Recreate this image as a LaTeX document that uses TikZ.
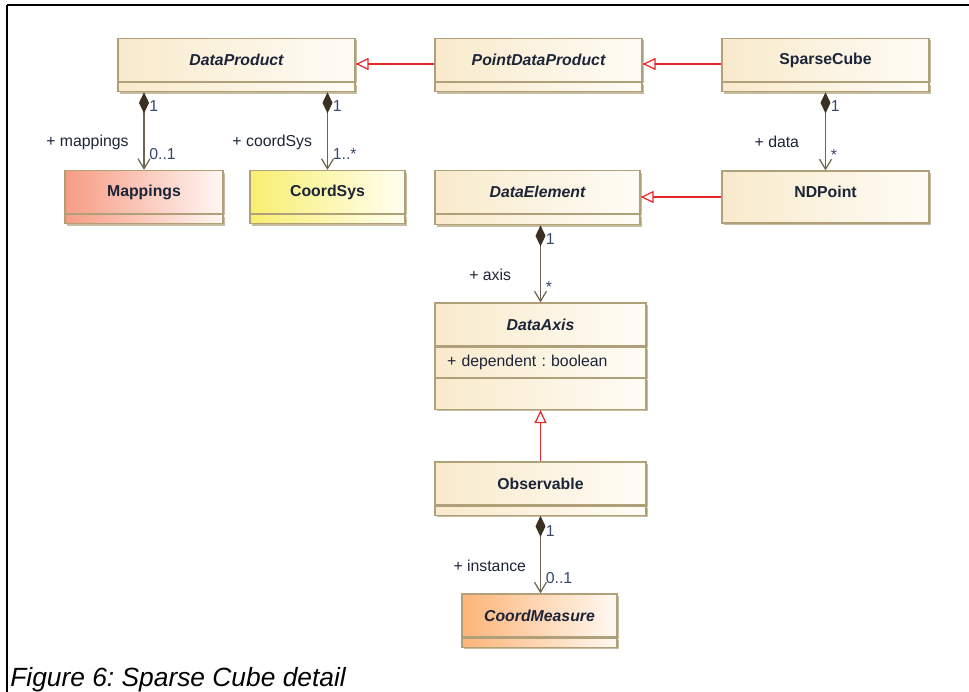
\documentclass[tikz,border=0pt]{standalone}
\usepackage{fontspec}
\setmainfont{Liberation Sans}
\frenchspacing
\usetikzlibrary{arrows.meta,positioning,shadows}

\definecolor{boxleft}{HTML}{F8EACB}
\definecolor{boxright}{HTML}{FFFCF6}
\definecolor{boxline}{HTML}{B0A07A}
\definecolor{boxshadow}{HTML}{C8BCA0}
\definecolor{mapleft}{HTML}{F79C84}
\definecolor{mapright}{HTML}{FFF6F3}
\definecolor{csysleft}{HTML}{F8EE70}
\definecolor{csysright}{HTML}{FFFFF2}
\definecolor{measleft}{HTML}{FDB478}
\definecolor{measright}{HTML}{FFF9F2}
\definecolor{assocline}{HTML}{6E6452}
\definecolor{diamondc}{HTML}{3A3122}
\definecolor{genred}{HTML}{E8262A}
\definecolor{labeltext}{HTML}{1C2438}
\definecolor{multtext}{HTML}{33486A}

\begin{document}
\begin{tikzpicture}[x=0.02cm,y=-0.02cm]
\tikzstyle{every node}=[font=\fontsize{9}{11}\selectfont, text=labeltext]
\tikzstyle{umlclass}=[draw=boxline, line width=.7pt, left color=boxleft,
  right color=boxright, inner sep=0pt, minimum height=.86cm,
  font=\fontsize{9}{11}\selectfont\bfseries,
  drop shadow={shadow xshift=.04cm, shadow yshift=-.04cm, fill=boxshadow, opacity=1}]
\tikzstyle{abstractclass}=[umlclass, font=\fontsize{9}{11}\selectfont\bfseries\itshape]
\tikzstyle{compartment}=[umlclass, minimum height=.18cm]
\tikzstyle{composition}=[draw=assocline, line width=.7pt,
  {Diamond[length=.42cm,width=.2cm,fill=diamondc,color=diamondc]}-{Straight Barb[length=.2cm,width=.24cm]}]
\tikzstyle{generalization}=[draw=genred, line width=.7pt,
  -{Triangle[open,length=.26cm,width=.24cm,fill=white]}]
\tikzstyle{mult}=[text=multtext, inner sep=1pt]

\useasboundingbox (0,0) rectangle (969,692);
%frame
\draw[line width=.9pt] (7,5) -- (969,5);
\draw[line width=.9pt] (7,5) -- (7,692);

%top row
\node[abstractclass, minimum width=4.74cm] (dataproduct) at (236.5,60) {DataProduct};
\node[compartment, minimum width=4.74cm, below=0pt of dataproduct] (dataproduct-ops) {};
\node[abstractclass, minimum width=4.14cm] (pointdataproduct) at (538.5,60) {PointDataProduct};
\node[compartment, minimum width=4.14cm, below=0pt of pointdataproduct] (pointdataproduct-ops) {};
\node[umlclass, minimum width=4.14cm] (sparsecube) at (825.5,60) {SparseCube};
\node[compartment, minimum width=4.14cm, below=0pt of sparsecube] (sparsecube-ops) {};

%second row
\node[umlclass, minimum width=3.16cm, left color=mapleft, right color=mapright] (mappings) at (144,192) {Mappings};
\node[compartment, minimum width=3.16cm, left color=mapleft, right color=mapright,
  below=0pt of mappings] (mappings-ops) {};
\node[umlclass, minimum width=3.1cm, left color=csysleft, right color=csysright] (coordsys) at (327.5,192) {CoordSys};
\node[compartment, minimum width=3.1cm, left color=csysleft, right color=csysright,
  below=0pt of coordsys] (coordsys-ops) {};
\node[abstractclass, minimum width=4.1cm] (dataelement) at (537.5,192) {DataElement};
\node[compartment, minimum width=4.1cm, minimum height=.2cm, below=0pt of dataelement] (dataelement-ops) {};
\node[umlclass, minimum width=4.14cm, minimum height=1.04cm, text depth=.2cm] (ndpoint) at (825.5,197) {NDPoint};

%axis and below
\node[abstractclass, minimum width=4.22cm] (dataaxis) at (540.5,324.5) {DataAxis};
\node[compartment, minimum width=4.22cm, minimum height=.6cm, inner xsep=.24cm,
  text width=3.74cm, align=left, font=\fontsize{9}{11}\selectfont,
  below=0pt of dataaxis] (dataaxis-attr) {+ dependent : boolean};
\node[compartment, minimum width=4.22cm, minimum height=.62cm, below=0pt of dataaxis-attr] (dataaxis-ops) {};
\node[umlclass, minimum width=4.22cm] (observable) at (540.5,483.5) {Observable};
\node[compartment, minimum width=4.22cm, below=0pt of observable] (observable-ops) {};
\node[abstractclass, minimum width=3.1cm, left color=measleft, right color=measright] (coordmeasure) at (539.5,615.5) {CoordMeasure};
\node[compartment, minimum width=3.1cm, left color=measleft, right color=measright,
  below=0pt of coordmeasure] (coordmeasure-ops) {};

%generalizations
\draw[generalization] ([yshift=-.08cm]pointdataproduct.west) -- ([yshift=-.08cm]dataproduct.east);
\draw[generalization] ([yshift=-.08cm]sparsecube.west) -- ([yshift=-.08cm]pointdataproduct.east);
\draw[generalization] (ndpoint.west) -- (ndpoint.west -| dataelement.east);
\draw[generalization] (observable.north) -- (dataaxis-ops.south);

%compositions
\draw[composition] (mappings.north |- dataproduct-ops.south) -- (mappings.north)
  node[mult, pos=.18, anchor=west, xshift=.06cm] (mapone) {1}
  node[mult, pos=.8, anchor=west, xshift=.06cm] (mapmult) {0..1}
  node[pos=.64, anchor=east, xshift=-.18cm] (maprole) {+ mappings};
\draw[composition] (coordsys.north |- dataproduct-ops.south) -- (coordsys.north)
  node[mult, pos=.18, anchor=west, xshift=.06cm] (csysone) {1}
  node[mult, pos=.8, anchor=west, xshift=.06cm] (csysmult) {1..*}
  node[pos=.64, anchor=east, xshift=-.18cm] (csysrole) {+ coordSys};
\draw[composition] (sparsecube-ops.south) -- (ndpoint.north)
  node[mult, pos=.18, anchor=west, xshift=.06cm] (dataone) {1}
  node[mult, pos=.8, anchor=west, xshift=.06cm] (datamult) {*}
  node[pos=.64, anchor=east, xshift=-.4cm] (datarole) {+ data};
\draw[composition] (dataaxis.north |- dataelement-ops.south) -- (dataaxis.north)
  node[mult, pos=.18, anchor=west, xshift=.06cm] (axisone) {1}
  node[mult, pos=.8, anchor=west, xshift=.06cm] (axismult) {*}
  node[pos=.64, anchor=east, xshift=-.46cm] (axisrole) {+ axis};
\draw[composition] (observable-ops.south) -- (observable-ops.south |- coordmeasure.north)
  node[mult, pos=.2, anchor=west, xshift=.06cm] (instone) {1}
  node[mult, pos=.8, anchor=west, xshift=.06cm] (instmult) {0..1}
  node[pos=.65, anchor=east, xshift=-.16cm] (instrole) {+ instance};

%caption
\node[anchor=base west, inner sep=0pt, text=black,
  font=\fontsize{15}{18}\selectfont\itshape] (caption) at (10,686) {Figure 6: Sparse Cube detail};
\end{tikzpicture}
\end{document}
